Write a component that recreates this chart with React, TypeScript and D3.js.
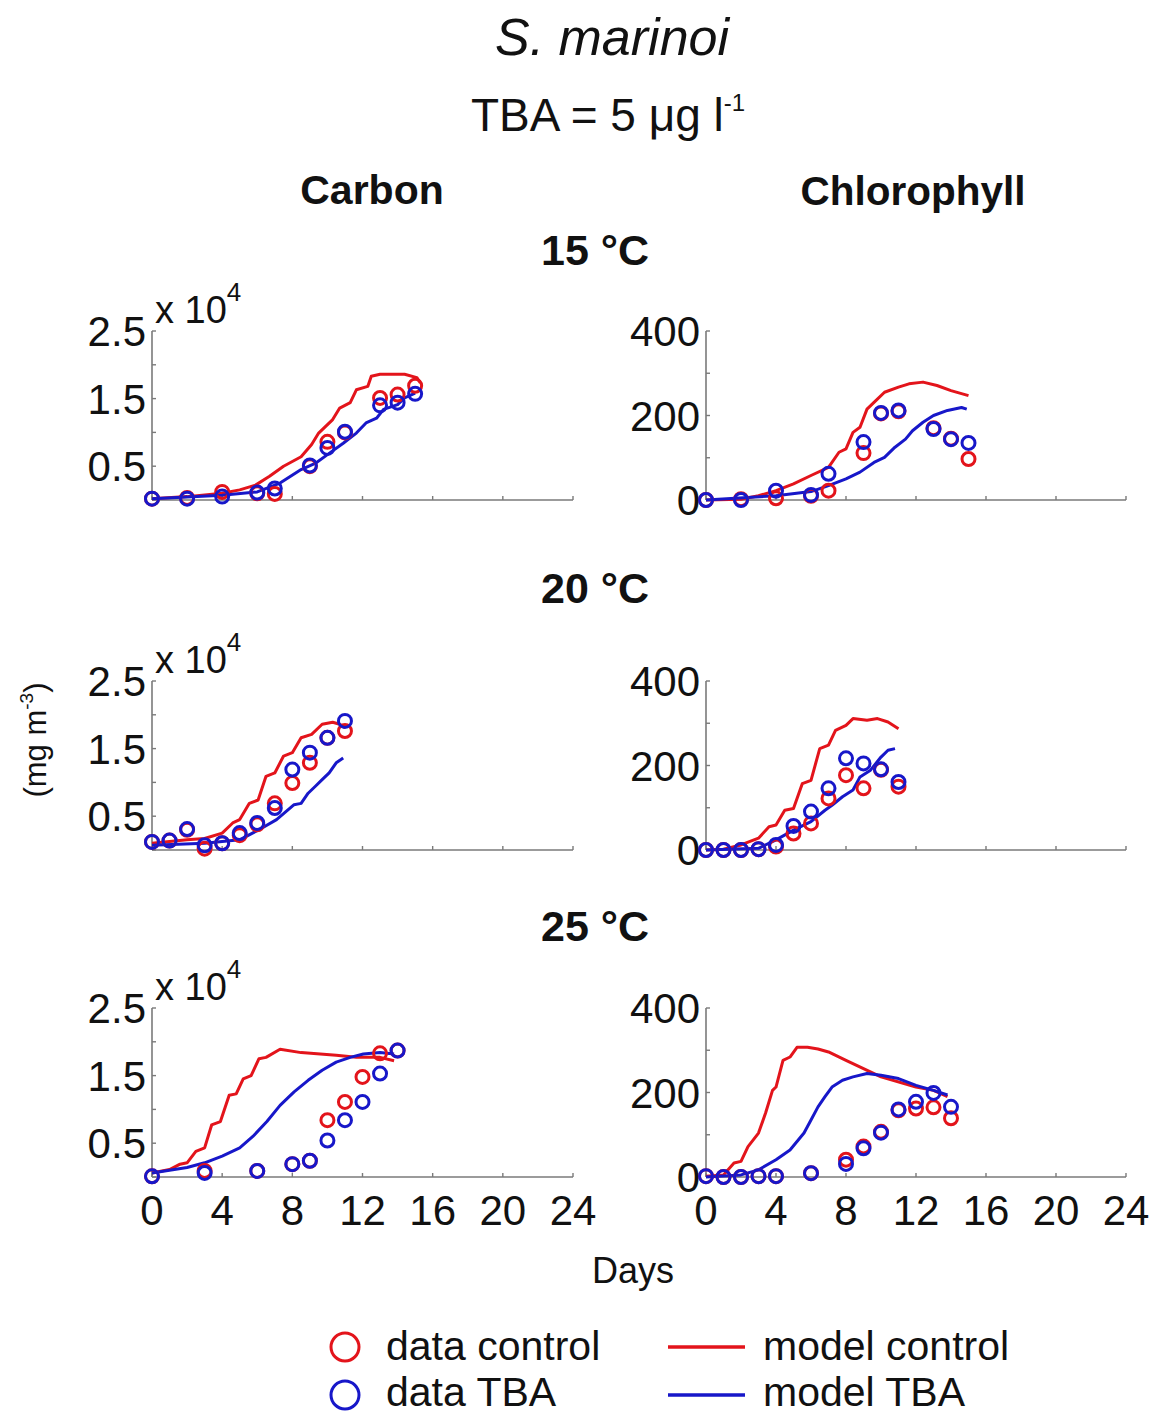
import React from "react";
import * as d3 from "d3";

// ---------- data (carbon in units of 10^4 mg m-3, chlorophyll in mg m-3) ----------
const xTicks = [0, 4, 8, 12, 16, 20, 24];
const carbonTicks = [0, 0.5, 1, 1.5, 2, 2.5];
const carbonTickLabels = ["", "0.5", "", "1.5", "", "2.5"];
const chlTicks = [0, 100, 200, 300, 400];
const chlTickLabels = ["0", "", "200", "", "400"];
const temps = ["15 °C", "20 °C", "25 °C"];
const columns = ["Carbon", "Chlorophyll"];

// 15 °C
const c15Days = [0, 2, 4, 6, 7, 9, 10, 11, 13, 14, 15];
const c15DataControl = [0.02, 0.03, 0.12, 0.1, 0.09, 0.5, 0.86, 1.0, 1.51, 1.56, 1.69];
const c15DataTBA = [0.02, 0.02, 0.05, 0.11, 0.17, 0.51, 0.77, 1.01, 1.4, 1.44, 1.57];
const c15ModelControl: [number, number][] = [
  [0, 0.02], [2, 0.05], [4, 0.1], [5, 0.15], [5.9, 0.22], [6.7, 0.35], [7.5, 0.5], [8.5, 0.64],
  [9.1, 0.82], [9.5, 0.99], [10.3, 1.19], [10.7, 1.36], [11.3, 1.44], [11.65, 1.63], [12.3, 1.68],
  [12.5, 1.83], [13, 1.86], [14.4, 1.86], [15.1, 1.81], [15.3, 1.73],
];
const c15ModelTBA: [number, number][] = [
  [0, 0.02], [4, 0.07], [6, 0.12], [7.3, 0.25], [8.5, 0.45], [9.3, 0.54], [10.1, 0.69], [10.9, 0.84],
  [11.65, 0.99], [12.2, 1.14], [12.8, 1.21], [13.2, 1.34], [14, 1.41], [14.4, 1.51], [15, 1.58],
];
const h15Days = [0, 2, 4, 6, 7, 9, 10, 11, 13, 14, 15];
const h15DataControl = [0, 2, 4, 10, 22, 111, 205, 210, 170, 145, 97];
const h15DataTBA = [0, 0, 22, 12, 62, 137, 206, 212, 168, 144, 135];
const h15ModelControl: [number, number][] = [
  [0, 0], [2, 2], [3, 10], [4, 22], [5, 38], [6, 58], [7, 77], [7.6, 113], [8, 121], [8.4, 160],
  [8.8, 172], [9.2, 215], [9.6, 231], [10.2, 255], [11, 267], [11.6, 275], [12.4, 279], [13.2, 271],
  [14, 259], [15, 247],
];
const h15ModelTBA: [number, number][] = [
  [0, 0], [4, 10], [6, 20], [7, 34], [8, 50], [8.8, 66], [9.6, 89], [10.2, 101], [10.8, 125],
  [11.4, 144], [11.8, 164], [12.4, 184], [13, 200], [13.8, 212], [14.6, 219], [14.9, 215],
];

// 20 °C
const c20Days = [0, 1, 2, 3, 4, 5, 6, 7, 8, 9, 10, 11];
const c20DataControl = [0.12, 0.14, 0.3, 0.02, 0.1, 0.22, 0.38, 0.69, 0.99, 1.29, 1.66, 1.76];
const c20DataTBA = [0.12, 0.14, 0.31, 0.07, 0.1, 0.25, 0.4, 0.62, 1.19, 1.44, 1.66, 1.91];
const c20ModelControl: [number, number][] = [
  [0, 0.1], [2, 0.15], [3, 0.17], [4, 0.25], [4.6, 0.4], [5, 0.45], [5.55, 0.69], [6.05, 0.74],
  [6.5, 1.09], [7, 1.14], [7.5, 1.39], [8, 1.44], [8.5, 1.66], [9.1, 1.71], [9.7, 1.86],
  [10.3, 1.89], [10.7, 1.86], [11, 1.81],
];
const c20ModelTBA: [number, number][] = [
  [0, 0.07], [3, 0.1], [5, 0.15], [6.1, 0.3], [7.1, 0.45], [8.1, 0.67], [8.5, 0.69], [8.9, 0.84],
  [9.3, 0.94], [9.7, 1.04], [10.1, 1.14], [10.5, 1.29], [10.9, 1.36],
];
const h20Days = [0, 1, 2, 3, 4, 5, 6, 7, 8, 9, 10, 11];
const h20DataControl = [0, 0, 0, 2, 8, 39, 63, 122, 177, 146, 190, 150];
const h20DataTBA = [0, 0, 0, 2, 12, 57, 91, 146, 217, 205, 191, 161];
const h20ModelControl: [number, number][] = [
  [0, 0], [1, 2], [2, 12], [3, 28], [3.6, 55], [4, 59], [4.5, 94], [5, 98], [5.5, 157], [6, 165],
  [6.5, 240], [7, 248], [7.4, 283], [8, 295], [8.4, 311], [9.2, 307], [9.8, 311], [10.4, 303],
  [11, 287],
];
const h20ModelTBA: [number, number][] = [
  [0, 0], [3, 4], [4, 24], [5, 47], [6, 67], [6.8, 94], [7.2, 106], [7.8, 126], [8.4, 142],
  [8.8, 173], [9.4, 189], [10, 220], [10.4, 236], [10.8, 240],
];

// 25 °C
const c25Days = [0, 3, 6, 8, 9, 10, 11, 12, 13, 14];
const c25DataControl = [0.01, 0.09, 0.09, 0.19, 0.24, 0.84, 1.11, 1.48, 1.83, 1.87];
const c25DataTBA = [0.01, 0.06, 0.09, 0.19, 0.24, 0.54, 0.84, 1.11, 1.53, 1.87];
const c25ModelControl: [number, number][] = [
  [0, 0.06], [1, 0.11], [1.6, 0.19], [2, 0.21], [2.5, 0.38], [3, 0.43], [3.4, 0.77], [3.9, 0.82],
  [4.4, 1.21], [4.8, 1.23], [5.2, 1.45], [5.65, 1.5], [6.1, 1.75], [6.5, 1.77], [7.3, 1.89],
  [8.5, 1.84], [10.5, 1.8], [11.65, 1.77], [13, 1.77], [13.8, 1.72],
];
const c25ModelTBA: [number, number][] = [
  [0, 0.06], [2, 0.14], [3, 0.21], [4, 0.31], [5, 0.43], [5.75, 0.6], [6.55, 0.82], [7.3, 1.06],
  [8.1, 1.26], [8.9, 1.43], [9.7, 1.58], [10.5, 1.7], [11.3, 1.77], [12.05, 1.82], [13, 1.84],
  [13.8, 1.82],
];
const h25Days = [0, 1, 2, 3, 4, 6, 8, 9, 10, 11, 12, 13, 14];
const h25DataControl = [2, 0, 0, 2, 2, 9, 41, 72, 107, 158, 162, 165, 139];
const h25DataTBA = [2, 0, 0, 2, 2, 9, 31, 68, 105, 160, 178, 199, 166];
const h25ModelControl: [number, number][] = [
  [0, 2], [1, 5], [1.6, 33], [2, 37], [2.4, 72], [3, 104], [3.4, 151], [3.8, 205], [4, 213],
  [4.4, 276], [4.8, 284], [5.2, 307], [5.8, 307], [6.4, 303], [7, 296], [8, 276], [10, 237],
  [12, 213], [13, 205], [13.8, 190],
];
const h25ModelTBA: [number, number][] = [
  [0, 0], [2, 5], [3, 17], [4, 41], [4.8, 64], [5.6, 104], [6, 135], [6.4, 166], [6.8, 190],
  [7.2, 213], [7.8, 229], [8.4, 237], [9.2, 245], [10, 241], [11, 233], [12, 217], [13, 205],
  [13.8, 194],
];

const carbonPanels = [
  { days: c15Days, dc: c15DataControl, dt: c15DataTBA, mc: c15ModelControl, mt: c15ModelTBA },
  { days: c20Days, dc: c20DataControl, dt: c20DataTBA, mc: c20ModelControl, mt: c20ModelTBA },
  { days: c25Days, dc: c25DataControl, dt: c25DataTBA, mc: c25ModelControl, mt: c25ModelTBA },
];
const chlPanels = [
  { days: h15Days, dc: h15DataControl, dt: h15DataTBA, mc: h15ModelControl, mt: h15ModelTBA },
  { days: h20Days, dc: h20DataControl, dt: h20DataTBA, mc: h20ModelControl, mt: h20ModelTBA },
  { days: h25Days, dc: h25DataControl, dt: h25DataTBA, mc: h25ModelControl, mt: h25ModelTBA },
];

// ---------- layout ----------
const W = 1156;
const H = 1416;
const FONT = "'Liberation Sans', Arial, Helvetica, sans-serif";
const RED = "#e3141b";
const BLUE = "#1717c9";
const AXIS = "#7a7a7a";
const colLeft = [152, 706];
const colRight = [573, 1126];
const rowTop = [331, 681, 1008];
const rowBottom = [500, 850, 1177];

type PanelData = { days: number[]; dc: number[]; dt: number[]; mc: [number, number][]; mt: [number, number][] };

function Panel({ col, row, data }: { col: number; row: number; data: PanelData }) {
  const x = d3.scaleLinear().domain([0, 24]).range([colLeft[col], colRight[col]]);
  const isC = col === 0;
  const y = d3
    .scaleLinear()
    .domain(isC ? [0, 2.5] : [0, 400])
    .range([rowBottom[row], rowTop[row]]);
  const yTicks = isC ? carbonTicks : chlTicks;
  const yLabels = isC ? carbonTickLabels : chlTickLabels;
  const line = d3
    .line<[number, number]>()
    .x((d) => x(d[0]))
    .y((d) => y(d[1]));
  const x0 = x(0);
  const y0 = y(0);
  return (
    <g>
      <line x1={x0} x2={x(24)} y1={y0} y2={y0} stroke={AXIS} strokeWidth={1.6} />
      <line x1={x0} x2={x0} y1={y0} y2={y(isC ? 2.5 : 400)} stroke={AXIS} strokeWidth={1.6} />
      {xTicks.map((t) => (
        <line key={"xt" + t} x1={x(t)} x2={x(t)} y1={y0} y2={y0 - 4} stroke={AXIS} strokeWidth={1.4} />
      ))}
      {yTicks.map((t) => (
        <line key={"yt" + t} x1={x0} x2={x0 + 4} y1={y(t)} y2={y(t)} stroke={AXIS} strokeWidth={1.4} />
      ))}
      {yTicks.map((t, i) =>
        yLabels[i] ? (
          <text key={"yl" + t} x={x0 - 6} y={y(t) + 15} textAnchor="end" fontSize={42} fontFamily={FONT} fill="#111">
            {yLabels[i]}
          </text>
        ) : null
      )}
      {row === 2 &&
        xTicks.map((t) => (
          <text key={"xl" + t} x={x(t)} y={y0 + 48} textAnchor="middle" fontSize={42} fontFamily={FONT} fill="#111">
            {t}
          </text>
        ))}
      {isC && (
        <text x={x0 + 3} y={rowTop[row] - 8} fontSize={38} fontFamily={FONT} fill="#111">
          x 10
          <tspan fontSize={26} dy={-22}>
            4
          </tspan>
        </text>
      )}
      <path d={line(data.mc) || ""} fill="none" stroke={RED} strokeWidth={3} strokeLinejoin="round" />
      <path d={line(data.mt) || ""} fill="none" stroke={BLUE} strokeWidth={3} strokeLinejoin="round" />
      {data.days.map((dd, i) => (
        <circle key={"dc" + i} cx={x(dd)} cy={y(data.dc[i])} r={6.5} fill="none" stroke={RED} strokeWidth={3} />
      ))}
      {data.days.map((dd, i) => (
        <circle key={"dt" + i} cx={x(dd)} cy={y(data.dt[i])} r={6.5} fill="none" stroke={BLUE} strokeWidth={3} />
      ))}
    </g>
  );
}

export default function App() {
  return (
    <svg
      width={W}
      height={H}
      viewBox={`0 0 ${W} ${H}`}
      style={{ position: "absolute", left: 0, top: 0, background: "#fff", display: "block" }}
    >
      <rect width={W} height={H} fill="#fff" />
      <text x={612} y={55} textAnchor="middle" fontSize={52} fontStyle="italic" fontFamily={FONT} fill="#111">
        S. marinoi
      </text>
      <text x={608} y={131} textAnchor="middle" fontSize={46} fontFamily={FONT} fill="#111">
        TBA = 5 μg l
        <tspan fontSize={24} dy={-20}>
          -1
        </tspan>
      </text>
      <text x={372} y={204} textAnchor="middle" fontSize={41} fontWeight="bold" fontFamily={FONT} fill="#111">
        {columns[0]}
      </text>
      <text x={913} y={205} textAnchor="middle" fontSize={40.5} fontWeight="bold" fontFamily={FONT} fill="#111">
        {columns[1]}
      </text>
      {temps.map((t, i) => (
        <text
          key={t}
          x={595}
          y={[265, 603, 941][i]}
          textAnchor="middle"
          fontSize={43}
          fontWeight="bold"
          fontFamily={FONT}
          fill="#111"
        >
          {t}
        </text>
      ))}
      {carbonPanels.map((p, i) => (
        <Panel key={"c" + i} col={0} row={i} data={p} />
      ))}
      {chlPanels.map((p, i) => (
        <Panel key={"h" + i} col={1} row={i} data={p} />
      ))}
      <text transform="translate(46,740) rotate(-90)" textAnchor="middle" fontSize={31} fontFamily={FONT} fill="#111">
        (mg m
        <tspan fontSize={19} dy={-13}>
          -3
        </tspan>
        <tspan dy={13}>)</tspan>
      </text>
      <text x={633} y={1283} textAnchor="middle" fontSize={36} fontFamily={FONT} fill="#111">
        Days
      </text>
      <circle cx={345} cy={1347} r={14} fill="none" stroke={RED} strokeWidth={3} />
      <circle cx={345} cy={1395} r={14} fill="none" stroke={BLUE} strokeWidth={3} />
      <text x={386} y={1360} fontSize={41} fontFamily={FONT} fill="#111">
        data control
      </text>
      <text x={386} y={1406} fontSize={41} fontFamily={FONT} fill="#111">
        data TBA
      </text>
      <line x1={668} x2={745} y1={1347} y2={1347} stroke={RED} strokeWidth={3.5} />
      <line x1={668} x2={745} y1={1395} y2={1395} stroke={BLUE} strokeWidth={3.5} />
      <text x={763} y={1360} fontSize={41} fontFamily={FONT} fill="#111">
        model control
      </text>
      <text x={763} y={1406} fontSize={41} fontFamily={FONT} fill="#111">
        model TBA
      </text>
    </svg>
  );
}
